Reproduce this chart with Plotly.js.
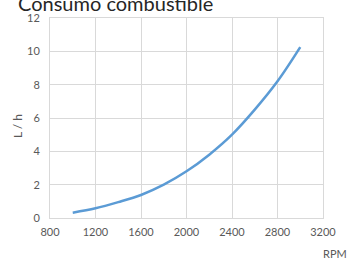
<!DOCTYPE html>
<html>
<head>
<meta charset="utf-8">
<script src="https://cdn.plot.ly/plotly-3.0.1.min.js"></script>
<style>html,body{margin:0;padding:0;background:#fff;}#chart{width:347px;height:260px;}</style>
</head>
<body>
<div id="chart"></div>
<script>
const rpm = [1000, 1200, 1400, 1600, 1800, 2000, 2200, 2400, 2600, 2800, 3000];
const litrosHora = [0.32, 0.58, 0.95, 1.38, 2.0, 2.8, 3.8, 5.0, 6.5, 8.2, 10.25];
const chartTitle = 'Consumo combustible';
const xTitle = 'RPM';
const yTitle = 'L / h';

const W = 347, H = 260;
const m = {l: 50, r: 24, t: 18, b: 42};
const pw = W - m.l - m.r, ph = H - m.t - m.b;
const px = v => (v - m.l) / pw;
const py = v => 1 - (v - m.t) / ph;

const tickFont = {family: 'Lato, "Open Sans", sans-serif', size: 11, color: '#595959'};

Plotly.newPlot('chart', [{
  x: rpm, y: litrosHora, type: 'scatter', mode: 'lines',
  line: {color: '#5b9bd5', width: 2.5, shape: 'spline', smoothing: 1},
  hoverinfo: 'skip'
}], {
  width: W, height: H,
  margin: m,
  paper_bgcolor: '#fff', plot_bgcolor: '#fff',
  showlegend: false,
  xaxis: {range: [800, 3200], dtick: 400, tick0: 800, showgrid: true, gridcolor: '#d9d9d9', gridwidth: 1,
          showline: true, mirror: true, linecolor: '#d9d9d9', linewidth: 1, zeroline: false,
          ticks: 'outside', ticklen: 4, tickcolor: 'rgba(0,0,0,0)', tickfont: tickFont, fixedrange: true},
  yaxis: {range: [0, 12], dtick: 2, tick0: 0, showgrid: true, gridcolor: '#d9d9d9', gridwidth: 1,
          showline: true, mirror: true, linecolor: '#d9d9d9', linewidth: 1, zeroline: false,
          ticks: 'outside', ticklen: 7, tickcolor: 'rgba(0,0,0,0)', tickfont: tickFont, fixedrange: true},
  annotations: [
    {text: chartTitle, xref: 'paper', yref: 'paper', x: px(16), y: py(3), xanchor: 'left', yanchor: 'middle',
     showarrow: false, font: {family: 'Lato, "Open Sans", sans-serif', size: 20, color: '#262626'}},
    {text: xTitle, xref: 'paper', yref: 'paper', x: px(335), y: py(253), xanchor: 'center', yanchor: 'middle',
     showarrow: false, font: tickFont},
    {text: yTitle, xref: 'paper', yref: 'paper', x: px(17), y: py(126), xanchor: 'center', yanchor: 'middle',
     textangle: -90, showarrow: false, font: {family: 'Lato, "Open Sans", sans-serif', size: 12, color: '#595959'}}
  ]
}, {staticPlot: true});
</script>
</body>
</html>
